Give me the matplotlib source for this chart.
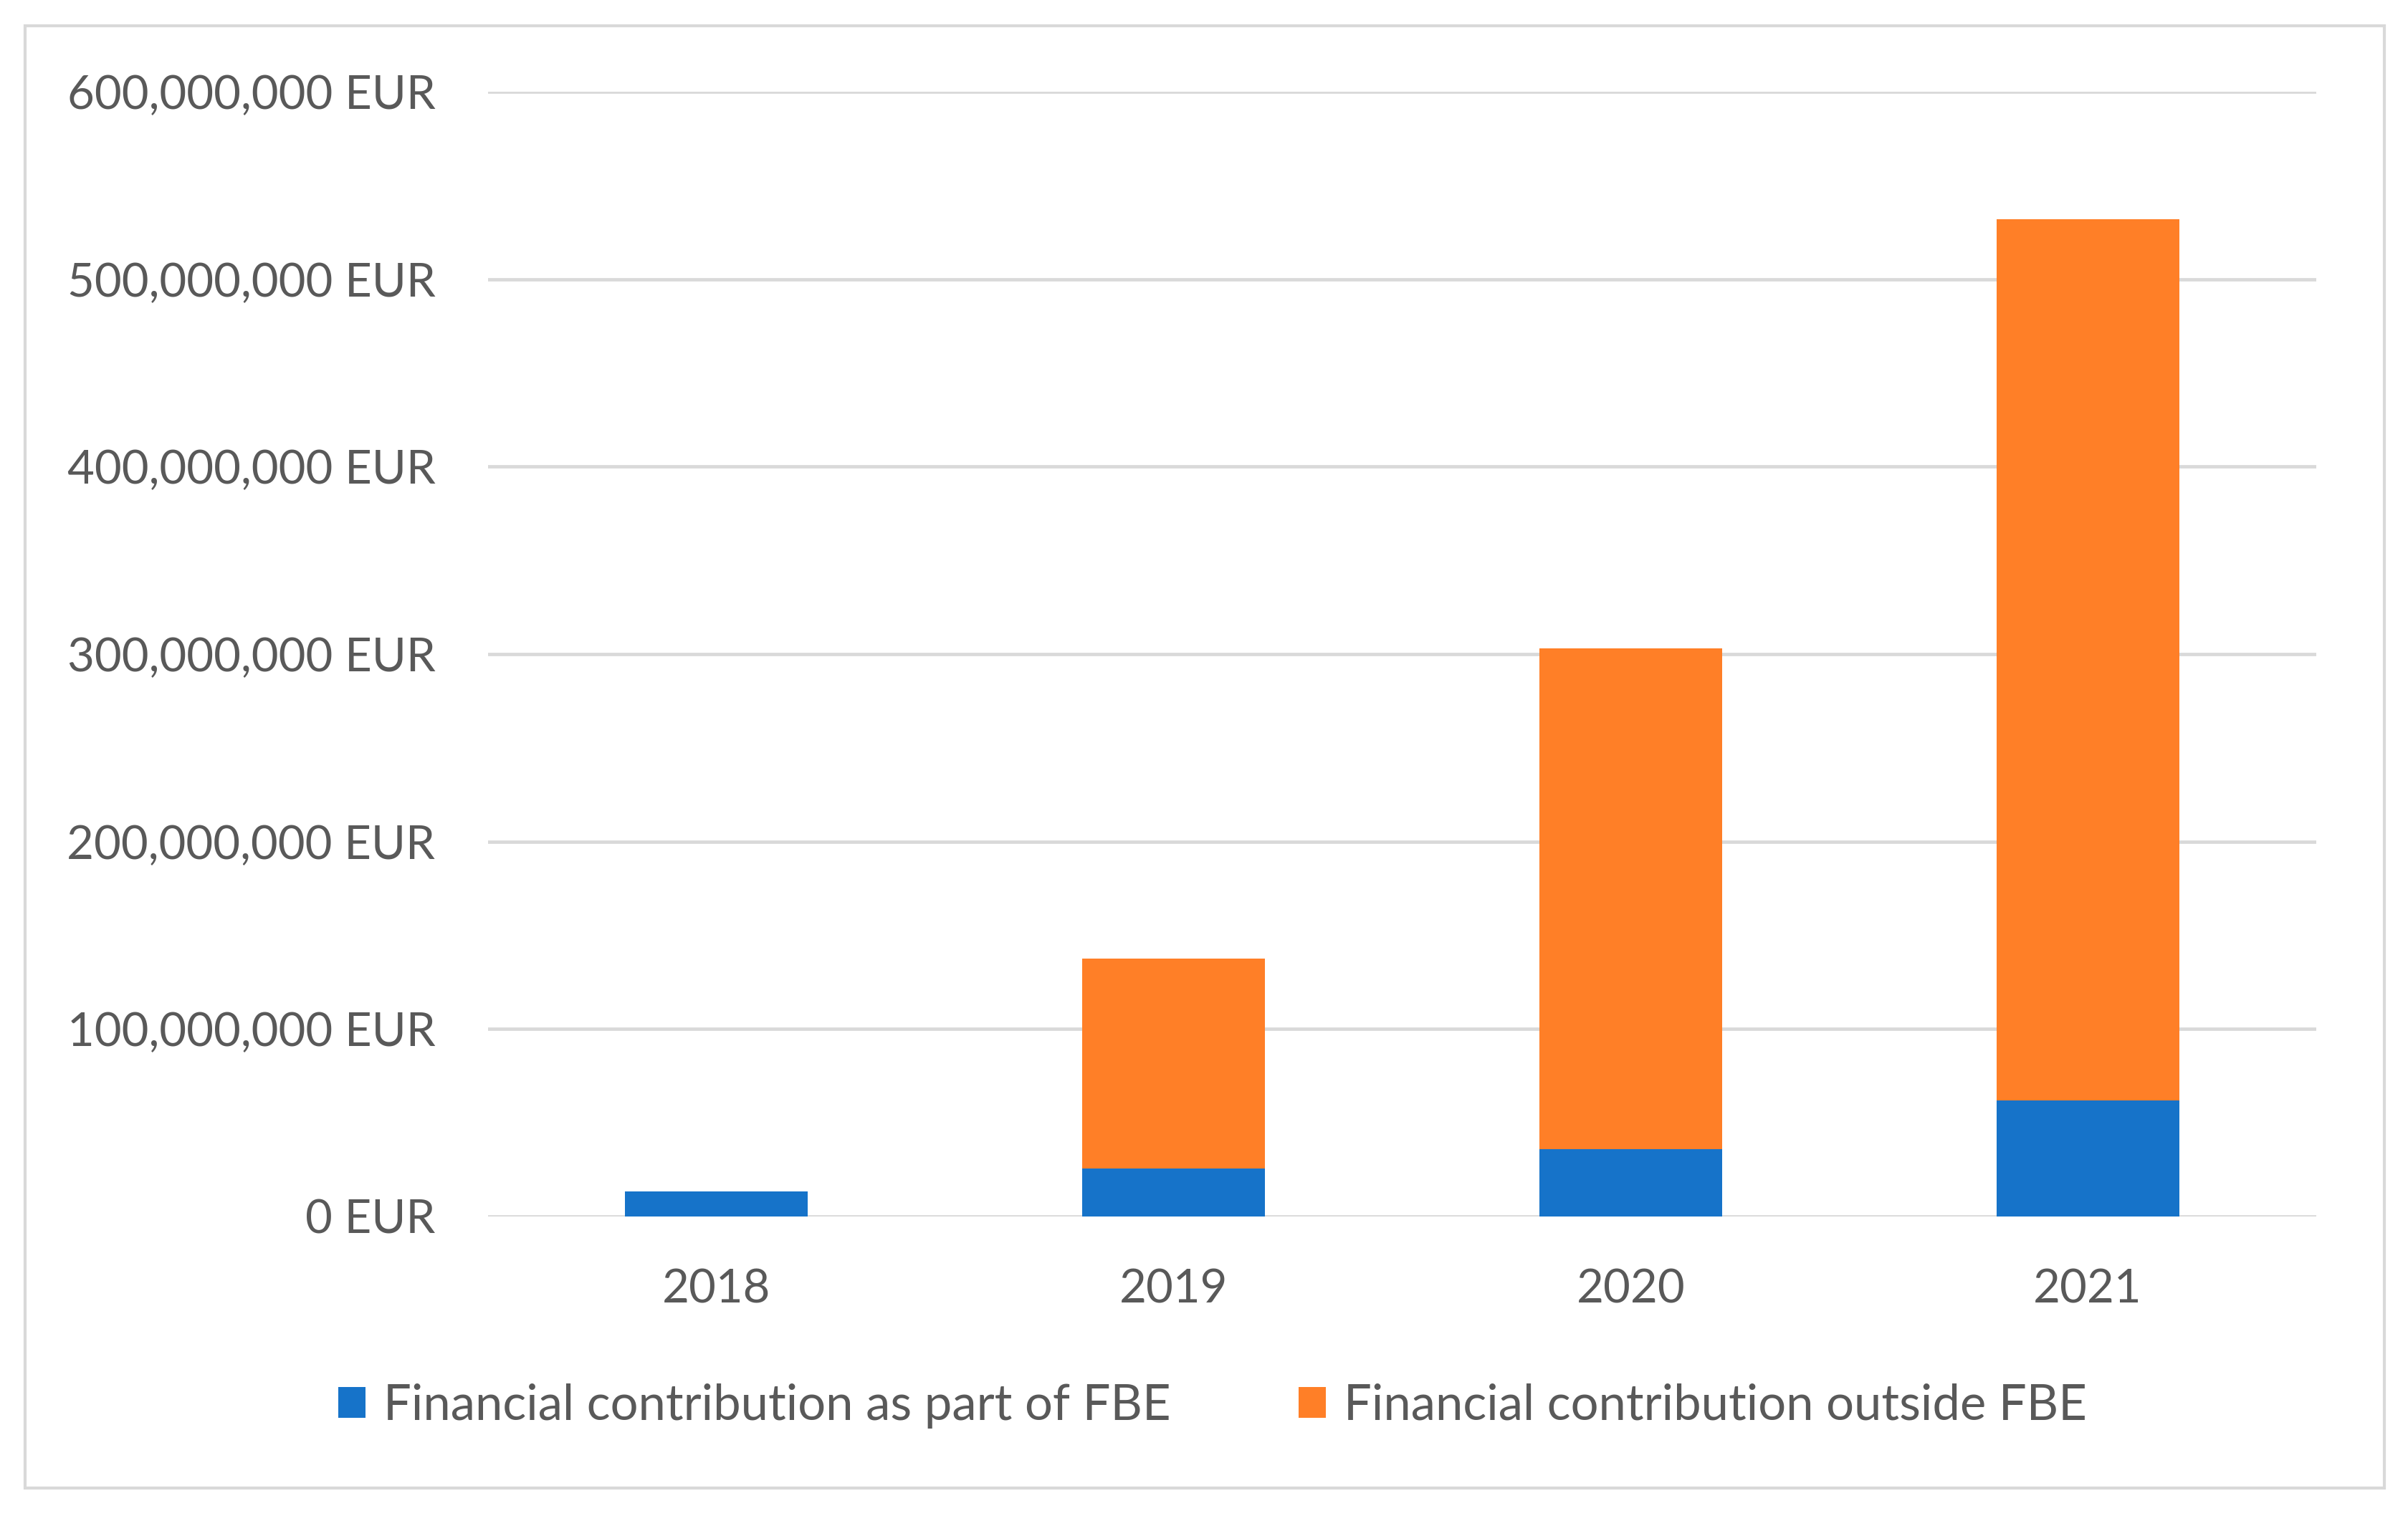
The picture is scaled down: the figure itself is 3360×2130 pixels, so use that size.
import numpy as np
import matplotlib
matplotlib.use('Agg')
import matplotlib.pyplot as plt
from matplotlib.patches import Rectangle
from matplotlib.ticker import FuncFormatter

# Données (EUR)
years = ['2018', '2019', '2020', '2021']
fbe_part = [13.5e6, 25.5e6, 36e6, 62e6]
outside_fbe = [0, 112e6, 267e6, 470e6]
y_ticks = [0, 100e6, 200e6, 300e6, 400e6, 500e6, 600e6]

labels = ['Financial contribution as part of FBE', 'Financial contribution outside FBE']
blue = '#1673C9'
orange = '#FF7F27'
text_col = '#595959'
grid_col = '#D9D9D9'

plt.rcParams['font.family'] = ['Lato', 'DejaVu Sans']
fs = 47
fs_leg = 49.5

fig = plt.figure(figsize=(33.6, 21.3), dpi=100)
ax = fig.add_axes([681/3360, 1 - 1698/2130, (3232 - 681)/3360, (1698 - 128)/2130])

x = np.arange(len(years))
ax.bar(x, fbe_part, width=0.4, color=blue, label=labels[0], zorder=3)
ax.bar(x, outside_fbe, width=0.4, bottom=fbe_part, color=orange, label=labels[1], zorder=3)

ax.set_xlim(-0.5, len(years) - 0.5)
ax.set_ylim(0, 600e6)
ax.set_yticks(y_ticks)
ax.yaxis.set_major_formatter(FuncFormatter(lambda v, p: f'{int(v):,} EUR'))
ax.set_xticks(x)
ax.set_xticklabels(years)

ax.grid(axis='y', color=grid_col, linewidth=3.4, zorder=0)
for s in ax.spines.values():
    s.set_visible(False)
ax.tick_params(axis='both', length=0, labelsize=fs, labelcolor=text_col)
ax.tick_params(axis='y', pad=53)
ax.tick_params(axis='x', pad=52)

# Légende en bas
fig.legend(loc='center', bbox_to_anchor=(0.5036, 1 - 1962/2130), ncol=2, frameon=False,
           fontsize=fs_leg, labelcolor=text_col, handlelength=0.55, handleheight=0.58,
           handletextpad=0.36, columnspacing=2.6)

# Cadre extérieur
fig.patches.append(Rectangle((35/3360, 1 - 2077/2130), (3327 - 35)/3360, (2077 - 36)/2130,
                             transform=fig.transFigure, fill=False, edgecolor=grid_col,
                             linewidth=3))

fig.savefig('out.png', dpi=100, facecolor='white')
